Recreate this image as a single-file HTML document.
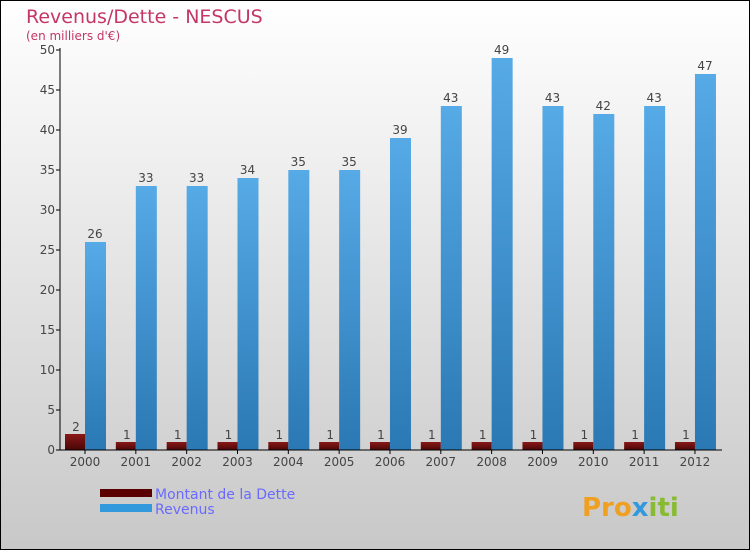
<!DOCTYPE html>
<html><head><meta charset="utf-8"><style>
body{margin:0}
svg{display:block;font-family:"DejaVu Sans","Liberation Sans",sans-serif}
</style></head><body>
<svg width="750" height="550" xmlns="http://www.w3.org/2000/svg">
<defs>
<linearGradient id="bg" x1="0" y1="0" x2="0" y2="1"><stop offset="0" stop-color="#ffffff"/><stop offset="1" stop-color="#c8c8c8"/></linearGradient>
<linearGradient id="blue" x1="0" y1="0" x2="0" y2="1"><stop offset="0" stop-color="#56aae6"/><stop offset="1" stop-color="#2a78b4"/></linearGradient>
<linearGradient id="red" x1="0" y1="0" x2="0" y2="1"><stop offset="0" stop-color="#8a1818"/><stop offset="1" stop-color="#4a0606"/></linearGradient>
</defs>
<rect x="0.5" y="0.5" width="749" height="549" fill="url(#bg)" stroke="#000"/>
<text x="26" y="23" font-size="19" fill="#c43765">Revenus/Dette - NESCUS</text>
<text x="26" y="40" font-size="12" fill="#c43765">(en milliers d'€)</text>
<g id="plot"></g>
<g>
<rect x="100" y="489" width="52" height="8" fill="#5a0000"/>
<text x="155" y="499" font-size="14" fill="#6a6aff">Montant de la Dette</text>
<rect x="100" y="504" width="52" height="8" fill="#3399dd"/>
<text x="155" y="514" font-size="14" fill="#6a6aff">Revenus</text>
</g>
<text x="582" y="516" font-size="26" font-weight="bold" fill="#f0a020">Pro<tspan fill="#3399dd">x</tspan><tspan fill="#88bb33">iti</tspan></text>
</svg>
<script>
const categories=["2000","2001","2002","2003","2004","2005","2006","2007","2008","2009","2010","2011","2012"];
const debt=[2,1,1,1,1,1,1,1,1,1,1,1,1];
const revenue=[26,33,33,34,35,35,39,43,49,43,42,43,47];
const yTicks=[0,5,10,15,20,25,30,35,40,45,50];
const NS="http://www.w3.org/2000/svg";
const g=document.getElementById('plot');
const y=v=>450-v*8;
const x=i=>85+i*50.83;
function mk(t,a,txt){const e=document.createElementNS(NS,t);for(const k in a)e.setAttribute(k,a[k]);if(txt!==undefined)e.textContent=txt;g.appendChild(e);return e;}
yTicks.forEach(v=>{
 const l=mk('line',{x1:56,x2:60,y1:y(v),y2:y(v),stroke:'#000'});
 
 
 const t=mk('text',{x:55,y:y(v)+4,'font-size':12,'text-anchor':'end',fill:'#444'},v);
 
 
});
categories.forEach((c,i)=>{
 const r=mk('rect',{x:x(i)-20,y:y(debt[i]),width:20,height:debt[i]*8,fill:'url(#red)'});
 
 
 const b=mk('rect',{x:x(i),y:y(revenue[i]),width:21,height:revenue[i]*8,fill:'url(#blue)'});
 
 
 const dl=mk('text',{x:x(i)-9,y:y(debt[i])-3,'font-size':12,'text-anchor':'middle',fill:'#444'},debt[i]);
 
 
 const rl=mk('text',{x:x(i)+10,y:y(revenue[i])-4,'font-size':12,'text-anchor':'middle',fill:'#444'},revenue[i]);
 
 
 const tk=mk('line',{x1:x(i),x2:x(i),y1:450,y2:454,stroke:'#000'});
 
 
 const xl=mk('text',{x:x(i),y:466,'font-size':12,'text-anchor':'middle',fill:'#444'},c);
 
 
});
const ya=mk('line',{x1:60,x2:60,y1:48,y2:450,stroke:'#000'});


const xa=mk('line',{x1:60,x2:722,y1:450,y2:450,stroke:'#000'});


</script>
</body></html>
